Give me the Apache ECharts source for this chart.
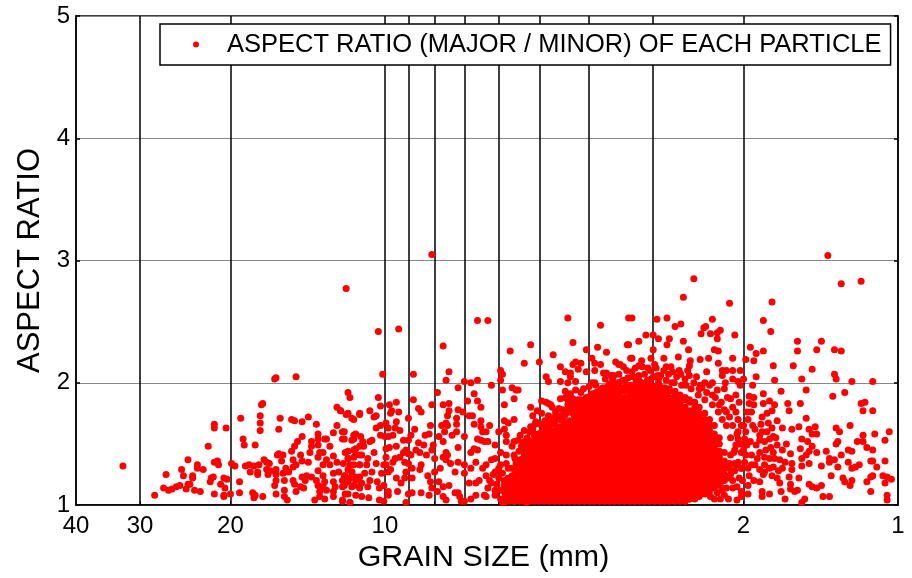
<!DOCTYPE html>
<html><head><meta charset="utf-8">
<script src="https://cdn.jsdelivr.net/npm/echarts@6/dist/echarts.min.js"></script>
<style>html,body{margin:0;padding:0;background:#fff}#c{width:912px;height:578px}</style>
</head><body><div id="c"></div>
<script>
const xLabelTicks = [40,30,20,10,2,1];
const xLineTicks = [30,20,10,9,8,7,6,5,4,3,2];
const legendLabel = 'ASPECT RATIO (MAJOR / MINOR) OF EACH PARTICLE';
const farLeft = [[32.4,1.32],[28.1,1.08],[27,1.14],[26.7,1.25],[26.4,1.12],[26,1.13],[25.5,1.15],[25.1,1.16],[24.9,1.29],[24.7,1.24],[24.2,1.37],[24.4,1.13],[24.2,1.17],[24,1.17],[23.7,1.24],[23.7,1.22],[23.5,1.12],[23.2,1.33],[23.2,1.30],[22.9,1.11],[22.6,1.29],[22.1,1.48],[21.9,1.19],[21.8,1.22],[21.6,1.23],[21.5,1.66],[21.5,1.63],[21.5,1.35],[21.2,1.36],[21.1,1.33],[21.5,1.09],[20.9,1.17],[20.6,1.22],[20.3,1.21],[20.6,1.08],[20.6,1.07],[20.5,1.14],[20.4,1.63],[20,1.09],[19.9,1.34],[19.6,1.32],[19.2,1.19],[19.2,1.10],[19.1,1.71],[18.9,1.54],[18.8,1.49],[18.7,1.32],[18.4,1.33],[18.3,1.27],[18.1,1.10],[18,1.32],[17.9,1.08],[18,1.06],[17.9,1.49],[17.7,1.27],[17.7,1.25],[17.6,1.33],[17.5,1.73],[17.5,1.67],[17.5,1.61],[17.4,1.82],[17.3,1.83],[17.3,1.07],[17.2,1.37],[17,1.35],[17,1.29],[16.7,1.28],[16.8,1.34],[16.4,2.03],[16.3,2.04]];
const midLeft = [[16,1.71],[16.1,1.62],[15.2,1.70],[15,1.69],[14.5,1.68],[14.1,1.72],[13.6,1.66],[13.5,1.58],[14.9,2.05],[12.4,1.8],[12.2,1.77],[11.8,1.75],[11.5,1.70],[11.2,1.75],[12.4,1.65],[12.6,1.59],[12,1.6],[12,1.54],[11.5,1.54],[11.4,1.58],[14.5,1.56],[14.8,1.52],[15,1.48],[13.9,1.52],[13.5,1.54],[13.1,1.54],[13,1.54],[13.5,1.49],[12.8,1.48],[13.9,1.48],[15.2,1.44],[16.2,1.41],[16.1,1.42],[15.8,1.41],[14.6,1.41],[14,1.43],[13.4,1.43],[13.2,1.43],[12.6,1.4],[11.8,1.44],[11.4,1.46],[15.1,1.37],[15.9,1.36],[14.5,1.36],[14.1,1.35],[13.5,1.39],[13,1.37],[12.4,1.35],[11.8,1.38],[11.5,1.39],[11.2,1.41],[16.3,1.29],[15.6,1.3],[15.1,1.31],[14.9,1.33],[13.2,1.33],[12.8,1.33],[13.5,1.28],[12.3,1.27],[11.8,1.29],[11.5,1.33],[11.2,1.33],[16.9,1.25],[16.3,1.25],[15.8,1.26],[15.4,1.27],[14.5,1.23],[14.2,1.24],[13.9,1.23],[13.2,1.24],[12.6,1.26],[12,1.24],[11.6,1.27],[16.3,1.2],[15.7,1.2],[15.1,1.2],[14.3,1.2],[13.6,1.2],[13.1,1.19],[12.6,1.19],[12.1,1.2],[11.7,1.22],[11.4,1.23],[16.4,1.16],[15,1.17],[14.6,1.15],[13.5,1.16],[13.2,1.15],[12.5,1.15],[12,1.16],[11.5,1.16],[11.2,1.15],[15.7,1.12],[14.9,1.11],[14.4,1.14],[13.4,1.11],[13,1.12],[12.6,1.11],[11.8,1.09],[16.3,1.09],[15.7,1.07],[15.5,1.04],[13.7,1.04],[13.4,1.07],[13.1,1.05],[12.6,1.07],[12.1,1.04],[11.7,1.02],[11.4,1.08]];
const outliersMid = [[11.9,2.77],[10.3,2.42],[9.4,2.44],[8.1,3.05],[6.6,2.51],[6.3,2.51],[7.7,2.3],[10.1,2.07],[8.8,2.07],[7.5,2.09],[7.6,2.02],[7,2.01],[6.8,2],[6.6,2.02],[6.2,1.98],[7.2,1.96],[7.9,1.92],[11.8,1.92],[11.7,1.88],[10.3,1.88],[10.2,1.81],[9.8,1.82],[9.5,1.84],[8.8,1.86],[8.1,1.82],[7.7,1.82],[7.5,1.83],[6.9,1.85],[6.7,1.91],[6.6,1.85],[6.5,1.8],[5.95,2.1],[5.9,2.07],[5.95,2.02],[5.9,1.94],[5.7,2.26],[5.2,2.31],[5.35,2.16],[5,2.17],[4.4,2.53],[3.8,2.47],[3.3,2.53],[4.3,2.33],[4.05,2.27],[3.85,2.29],[3.7,2.25],[3.35,2.31],[4.7,2.23],[3.95,2.2],[3.9,2.16],[3.8,2.15],[3.55,2.17],[3.5,2.15],[3.3,2.2],[4.55,2.13],[4.45,2.09],[4.35,2.08],[4.3,2.15],[4.25,2.17],[4.2,2.11],[4.15,2.16],[4.05,2.09],[3.9,2.1],[3.75,2.08],[4.85,2.05],[4.8,2.01],[4.55,2.01],[4.4,2],[4.35,2.05],[4.25,2.01],[3.95,2],[5.65,1.96],[5.55,1.94],[5.5,1.94],[5.6,1.87],[5.85,1.82],[4.95,1.85],[4.45,1.93],[4.15,1.92],[4.55,1.87],[4.85,1.84],[4.75,1.82],[4.4,1.86],[4.3,1.87]];
const clusterMid = [[12.2,1.77],[11.9,1.74],[11.6,1.71],[11.2,1.74],[10.7,1.77],[10.5,1.72],[10.4,1.73],[9.7,1.77],[9.75,1.75],[9.4,1.76],[9,1.71],[8.6,1.79],[8.5,1.76],[9.5,1.68],[9.95,1.67],[10.4,1.63],[10.2,1.65],[9.85,1.63],[9.55,1.63],[9.35,1.61],[8.75,1.62],[8.15,1.65],[8.2,1.58],[8.35,1.57],[8.9,1.57],[9,1.53],[9.2,1.53],[7.85,1.56],[7.75,1.65],[7.6,1.67],[7.55,1.73],[7.5,1.77],[7.25,1.71],[7.2,1.78],[7.05,1.76],[6.85,1.73],[6.75,1.73],[6.5,1.69],[6.7,1.66],[6.25,1.65],[6.5,1.64],[6.45,1.6],[6.35,1.6],[7.25,1.66],[7.55,1.65],[7.65,1.6],[7.25,1.6],[7.4,1.57],[7,1.56],[6.6,1.54],[6.5,1.53],[6.4,1.52],[6.3,1.52],[5.85,1.69],[5.6,1.7],[5.75,1.67],[6,1.6],[5.85,1.62],[5.8,1.57],[5.35,1.61],[5.45,1.57],[5.6,1.52],[6.1,1.49],[5.8,1.52],[5.5,1.53],[5.95,1.43],[5.65,1.48],[5.8,1.41],[5.6,1.41],[6.1,1.38],[6.2,1.37],[6.8,1.43],[6.7,1.46],[6.6,1.45],[7.2,1.47],[7.7,1.52],[7.6,1.43],[7.7,1.39],[7.55,1.41],[8.05,1.49],[8.1,1.45],[8.4,1.49],[8.6,1.51],[8.7,1.45],[8.55,1.43],[8.3,1.41],[8,1.38],[9,1.42],[8.9,1.41],[9.1,1.45],[9.2,1.43],[9.5,1.48],[9.8,1.47],[9.95,1.46],[10.6,1.53],[10.7,1.52],[10.2,1.57],[10,1.56],[9.85,1.56],[9.65,1.57],[11.5,1.57],[11.15,1.56],[11.6,1.53],[11.05,1.52],[12.1,1.6],[12.1,1.54],[11.2,1.48],[11.5,1.45],[11,1.48],[11.95,1.43],[10.5,1.43],[11.8,1.38],[11.4,1.41],[11.1,1.41],[10.8,1.38],[12.05,1.34],[11.7,1.33],[11.2,1.33],[10.85,1.33],[10.4,1.34],[9.95,1.39],[9.65,1.35],[9.95,1.33],[10.05,1.33],[9.55,1.38],[9.35,1.39],[9.15,1.35],[9,1.34],[9.1,1.27],[8.85,1.3],[8.5,1.33],[8.55,1.29],[8.25,1.24],[8.15,1.19],[8,1.27],[7.8,1.3],[7.6,1.37],[7.45,1.34],[7.3,1.27],[7.2,1.35],[7,1.33],[7,1.26],[6.8,1.3],[6.65,1.35],[6.45,1.3],[6.35,1.33],[6.1,1.27],[5.95,1.33],[5.75,1.3],[5.55,1.34],[11.95,1.24],[11.6,1.27],[11.2,1.23],[10.95,1.26],[10.6,1.27],[10.15,1.26],[9.85,1.27],[9.75,1.29],[9.5,1.22],[9.3,1.18],[9.15,1.22],[8.85,1.22],[11.8,1.19],[11.4,1.2],[11.1,1.18],[10.7,1.2],[10.35,1.19],[10.05,1.16],[12.1,1.15],[11.6,1.15],[11.2,1.14],[10.8,1.15],[10.25,1.14],[9.85,1.11],[9.85,1.08],[9.45,1.11],[8.85,1.1],[9,1.09],[8.5,1.1],[8.2,1.08],[8.1,1.14],[7.85,1.19],[7.7,1.15],[7.5,1.16],[7.9,1.11],[7.7,1.07],[7.6,1.04],[7.3,1.1],[7.2,1.1],[7.15,1.07],[7.1,1.03],[7,1.03],[6.8,1.05],[6.65,1.08],[6.35,1.07],[6.85,1.18],[6.65,1.18],[6.55,1.2],[6.35,1.24],[6.2,1.18],[6.1,1.08],[5.95,1.05],[5.85,1.02],[5.6,1.03],[6,1.22],[5.85,1.2],[5.7,1.16],[5.55,1.11],[5.65,1.24],[5.45,1.22],[5.4,1.27],[5.4,1.15],[5.3,1.02],[12.1,1.03],[11.7,1.02],[11.95,1.09],[11.1,1.07],[10.75,1.06],[10.25,1.04],[10.05,1.03],[9.1,1.02]];
const coreFringe = [[5.2,1.8],[5.05,1.77],[5.15,1.73],[4.95,1.75],[4.8,1.83],[4.72,1.8],[4.58,1.79],[4.65,1.73],[4.88,1.69],[5.08,1.68],[5.2,1.64],[4.32,1.84],[4.2,1.86],[4.05,1.84],[4,1.87],[3.85,1.92],[3.8,1.94],[3.65,1.99],[3.6,2.03],[3.5,2],[3.4,1.95],[3.3,1.94],[3.25,1.98],[3.72,2.03],[3.58,2.06],[3.88,1.98],[3.95,1.91],[4.15,1.8],[4.4,1.76],[4.5,1.69],[4.8,1.73],[3.35,2.53],[2.95,2.52],[2.82,2.53],[2.72,2.46],[2.65,2.48],[2.3,2.52],[2.5,2.85],[2.62,2.70],[2.13,2.65],[2.1,2.03],[2.18,1.95],[2.12,1.87],[2.07,1.76],[2.16,1.76],[2.23,1.82],[2.3,1.9],[2.38,2],[2.44,1.95],[2.59,1.98],[2.76,2],[2.93,2],[3.03,2.03],[3.12,1.98],[2.05,1.54],[2.09,1.43],[2.02,1.43],[2.07,1.33],[2.04,1.22],[2.1,1.14],[2.18,1.08],[2.32,1.07],[2.22,1.16],[2.15,1.22],[2.02,1.3],[2.02,1.11],[2.08,2.39],[2.22,2.43],[2.25,2.36],[2.25,2.41],[2.32,2.4],[2.42,2.4],[2.37,2.46],[2.39,2.45],[2.62,2.34],[2.56,2.27],[2.79,2.36],[2.82,2.31],[2.93,2.36],[3,2.39],[3.1,2.39],[3.2,2.34],[3,2.27],[3.37,2.31],[3.32,2.2],[3.03,2.2],[2.86,2.2],[2.68,2.21],[2.54,2.18],[2.34,2.2],[2.43,2.19],[3.48,2.15],[3.16,2.18],[3.2,2.14],[3.07,2.12],[2.98,2.15],[2.83,2.13],[2.55,2.14],[2.36,2.09],[2.65,2.07],[2.75,2.09],[2.94,2.06],[3.3,2.09],[3.2,2.02],[3.4,2.02],[2.2,2.06],[2.17,2],[2.3,2],[2.55,2.06],[2.43,1.98],[3.45,1.95],[3.33,1.92],[2.07,1.9],[2.03,1.98],[2,2.03],[2.05,2.01],[2.1,2.1],[2.03,2.1],[2.16,2.1],[2.2,2.1],[2.1,2.2],[2.24,2.16],[2.24,2.26],[2.28,2.27],[2.02,1.65],[2.05,1.6],[2.07,1.49],[2.12,1.41],[1.98,1.41],[1.97,1.49],[1.99,1.54],[2,1.65],[2.02,1.3]];
const coreEdge = [[4.95,1.6],[4.9,1.65],[4.85,1.62],[4.8,1.68],[4.75,1.66],[4.7,1.7],[4.65,1.76],[4.6,1.72],[5.02,1.58],[4.98,1.66],[5.05,1.55],[5.12,1.58],[5.18,1.52],[5.25,1.46],[5.3,1.42],[5.38,1.38],[5.42,1.32],[4.5,1.78],[4.45,1.74],[4.4,1.82],[4.35,1.79],[4.3,1.75],[4.25,1.83],[4.2,1.8],[4.15,1.86],[4.1,1.84],[4.05,1.88],[4,1.82],[3.97,1.9],[3.92,1.87],[3.88,1.92],[3.84,1.89],[4.45,1.88],[4.35,1.91],[4.25,1.94],[4.1,1.95],[4,1.97],[3.9,2.0],[3.8,1.92],[3.76,1.96],[3.72,1.93],[3.68,1.97],[3.64,1.94],[3.6,1.98],[3.55,1.95],[3.52,2],[3.48,1.96],[3.44,2.02],[3.4,1.97],[3.36,2.04],[3.32,1.98],[3.28,2.05],[3.24,2.01],[3.2,2.06],[3.16,2],[3.12,2.07],[3.08,2.02],[3.04,2.1],[3,2.05],[2.96,2.12],[2.93,2.03],[3.5,2.07],[3.38,2.1],[3.62,2.06],[3.7,2.08],[3.25,2.12],[3.15,2.13],[3.43,2.13],[2.9,2.06],[2.86,2.1],[2.83,2.02],[2.8,2.07],[2.77,2.13],[2.73,2],[2.7,2.05],[2.67,2.1],[2.64,1.98],[2.6,2.03],[2.57,2.1],[2.53,1.95],[2.5,2],[2.47,2.05],[2.45,1.9],[2.41,1.96],[2.38,1.86],[2.36,1.92],[2.33,1.98],[2.3,1.82],[2.27,1.88],[2.25,1.94],[2.24,1.76],[2.21,1.84],[2.2,1.7],[2.18,1.78],[2.16,1.65],[2.15,1.88],[2.13,1.72],[2.12,1.55],[2.1,1.65],[2.1,1.8],[2.08,1.45],[2.06,1.58],[2.05,1.7],[2.04,1.84],[2.05,1.35],[2.03,1.5],[2.14,1.3],[2.12,1.25],[2.1,1.2],[2.08,1.28],[2.06,1.15],[2.16,1.14],[2.2,1.12],[2.25,1.1],[2.28,1.05],[2.22,1.05],[2.14,1.05],[2.06,1.04],[2.01,1.2],[1.99,1.35],[2,1.45],[1.98,1.6],[1.96,1.7],[1.94,1.52],[1.93,1.33],[1.91,1.2],[1.9,1.62],[1.88,1.38],[1.86,1.53],[1.85,1.66],[1.83,1.25],[1.81,1.45],[1.8,1.6],[1.77,1.47],[1.73,1.55],[1.71,1.28],[1.65,1.5],[1.66,1.35],[6.4,1.08],[6.3,1.14],[6.25,1.2],[6.15,1.25],[6.1,1.12],[6.05,1.17],[6,1.3],[5.95,1.12],[5.9,1.26],[5.85,1.16],[5.8,1.34],[5.75,1.22],[5.7,1.08],[5.65,1.3],[5.6,1.16],[5.58,1.38],[5.55,1.26],[5.5,1.33],[5.48,1.44],[5.45,1.37],[5.42,1.48],[5.38,1.44],[5.35,1.52],[5.32,1.47],[5.28,1.55],[5.25,1.5],[5.22,1.6],[5.15,1.62],[5.1,1.66],[5.9,1.02],[5.75,1.04],[5.5,1.05],[5.3,1.08]];
const farRight = [[1.37,3.04],[1.29,2.81],[1.18,2.83],[1.76,2.66],[1.83,2.51],[1.77,2.42],[1.57,2.34],[1.41,2.34],[1.57,2.26],[1.44,2.27],[1.33,2.27],[1.29,2.26],[1.94,2.29],[1.89,2.24],[1.83,2.26],[1.91,2.18],[1.98,2.19],[1.75,2.14],[1.6,2.14],[1.47,2.11],[1.33,2.07],[1.32,2.03],[1.23,2.01],[1.12,2.01],[1.89,2.05],[1.74,2.02],[1.54,2.03],[1.92,1.98],[1.69,1.93],[1.51,1.94],[1.83,1.91],[1.34,1.89],[1.27,1.92],[1.18,1.83],[1.16,1.84],[1.17,1.77],[1.12,1.77],[1.64,1.83],[1.63,1.77],[1.55,1.83],[1.51,1.71],[1.78,1.85],[1.83,1.83],[1.74,1.82],[1.95,1.89],[1.91,1.88],[1.95,1.83],[1.91,1.82],[1.97,1.76],[1.93,1.76],[1.8,1.75],[1.84,1.72],[1.76,1.77],[1.72,1.69],[1.79,1.67],[1.76,1.63],[1.68,1.63],[1.61,1.62],[1.56,1.64],[1.49,1.62],[1.45,1.64],[1.47,1.58],[1.44,1.58],[1.32,1.63],[1.3,1.6],[1.24,1.65],[1.11,1.58],[1.04,1.6],[1.17,1.57],[1.06,1.53],[1.2,1.52],[1.17,1.52],[1.54,1.54],[1.5,1.52],[1.31,1.52],[1.32,1.5],[1.15,1.47],[1.25,1.45],[1.23,1.44],[1.12,1.45],[1.38,1.44],[1.47,1.48],[1.55,1.46],[1.44,1.43],[1.49,1.44],[1.51,1.41],[1.54,1.38],[1.62,1.42],[1.29,1.41],[1.36,1.38],[1.33,1.37],[1.13,1.36],[1.12,1.36],[1.06,1.36],[1.36,1.35],[1.25,1.35],[1.31,1.31],[1.41,1.32],[1.49,1.34],[1.61,1.34],[1.54,1.32],[1.1,1.31],[1.23,1.3],[1.21,1.31],[1.19,1.33],[1.35,1.24],[1.63,1.23],[1.56,1.22],[1.61,1.29],[1.28,1.22],[1.27,1.19],[1.24,1.16],[1.23,1.2],[1.13,1.23],[1.12,1.24],[1.07,1.24],[1.05,1.23],[1.03,1.21],[1.15,1.19],[1.06,1.18],[1.49,1.17],[1.47,1.15],[1.44,1.14],[1.41,1.16],[1.62,1.17],[1.62,1.13],[1.57,1.12],[1.59,1.11],[1.69,1.11],[1.13,1.11],[1.4,1.07],[1.36,1.07],[1.05,1.08],[1.05,1.04],[1.52,1.05],[1.54,1.02],[1.66,1.05],[1.78,1.09],[1.84,1.11],[1.84,1.07],[1.96,1.09],[2.02,1.07],[1.86,1.57],[1.84,1.6],[1.92,1.65],[1.82,1.52],[1.75,1.56],[1.78,1.54],[1.72,1.49],[1.68,1.45],[1.75,1.43],[1.89,1.49],[1.86,1.43],[1.93,1.41],[1.82,1.39],[1.78,1.38],[1.74,1.38],[1.7,1.37],[1.82,1.33],[1.78,1.3],[1.75,1.31],[1.68,1.3],[1.86,1.29],[1.9,1.33],[1.96,1.3],[1.82,1.27],[1.76,1.24],[1.72,1.22],[1.7,1.18],[1.86,1.19],[1.95,1.24],[1.96,1.16]];
const denseSizes = [5.84,5.72,5.59,5.46,5.35,5.23,5.11,5.0,4.89,4.78,4.67,4.57,4.47,4.37,4.27,4.18,4.08,3.99,3.91,3.82,3.73,3.65,3.57,3.49,3.41,3.33,3.26,3.19,3.12,3.05,2.98,2.91,2.85,2.79,2.72,2.66,2.6,2.55,2.49,2.44,2.38,2.33,2.28,2.23,2.18,2.13,2.08];
const denseRatios = [
[1.04,1.1],
[1.06,1.12,1.18],
[1.03,1.09,1.15,1.21],
[1.05,1.12,1.18,1.24,1.29],
[1.03,1.09,1.14,1.2,1.25,1.32],
[1.06,1.11,1.17,1.22,1.28,1.34,1.4],
[1.03,1.09,1.14,1.2,1.25,1.31,1.36,1.43,1.48],
[1.06,1.11,1.17,1.22,1.28,1.33,1.39,1.44,1.5,1.54],
[1.03,1.09,1.14,1.2,1.25,1.31,1.36,1.42,1.47,1.53,1.58],
[1.06,1.11,1.17,1.22,1.28,1.33,1.39,1.44,1.5,1.55,1.62],
[1.03,1.09,1.14,1.2,1.25,1.31,1.36,1.42,1.47,1.53,1.58,1.66],
[1.06,1.11,1.17,1.22,1.28,1.33,1.39,1.44,1.5,1.55,1.61,1.7],
[1.03,1.09,1.14,1.2,1.25,1.31,1.36,1.42,1.47,1.53,1.58,1.64,1.73],
[1.06,1.11,1.17,1.22,1.28,1.33,1.39,1.44,1.5,1.55,1.61,1.66,1.76],
[1.03,1.09,1.14,1.2,1.25,1.31,1.36,1.42,1.47,1.53,1.58,1.64,1.69,1.78],
[1.06,1.11,1.17,1.22,1.28,1.33,1.39,1.44,1.5,1.55,1.61,1.66,1.72,1.8],
[1.03,1.09,1.14,1.2,1.25,1.31,1.36,1.42,1.47,1.53,1.58,1.64,1.69,1.75,1.82],
[1.06,1.11,1.17,1.22,1.28,1.33,1.39,1.44,1.5,1.55,1.61,1.66,1.72,1.77,1.84],
[1.03,1.09,1.14,1.2,1.25,1.31,1.36,1.42,1.47,1.53,1.58,1.64,1.69,1.75,1.8,1.86],
[1.06,1.11,1.17,1.22,1.28,1.33,1.39,1.44,1.5,1.55,1.61,1.66,1.72,1.77,1.83,1.88],
[1.03,1.09,1.14,1.2,1.25,1.31,1.36,1.42,1.47,1.53,1.58,1.64,1.69,1.75,1.8,1.86,1.9],
[1.06,1.11,1.17,1.22,1.28,1.33,1.39,1.44,1.5,1.55,1.61,1.66,1.72,1.77,1.83,1.9],
[1.03,1.09,1.14,1.2,1.25,1.31,1.36,1.42,1.47,1.53,1.58,1.64,1.69,1.75,1.8,1.86,1.91],
[1.06,1.11,1.17,1.22,1.28,1.33,1.39,1.44,1.5,1.55,1.61,1.66,1.72,1.77,1.83,1.88,1.92],
[1.03,1.09,1.14,1.2,1.25,1.31,1.36,1.42,1.47,1.53,1.58,1.64,1.69,1.75,1.8,1.86,1.93],
[1.06,1.11,1.17,1.22,1.28,1.33,1.39,1.44,1.5,1.55,1.61,1.66,1.72,1.77,1.83,1.88,1.94],
[1.03,1.09,1.14,1.2,1.25,1.31,1.36,1.42,1.47,1.53,1.58,1.64,1.69,1.75,1.8,1.86,1.91,1.95],
[1.06,1.11,1.17,1.22,1.28,1.33,1.39,1.44,1.5,1.55,1.61,1.66,1.72,1.77,1.83,1.88,1.96],
[1.03,1.09,1.14,1.2,1.25,1.31,1.36,1.42,1.47,1.53,1.58,1.64,1.69,1.75,1.8,1.86,1.91,1.97],
[1.06,1.11,1.17,1.22,1.28,1.33,1.39,1.44,1.5,1.55,1.61,1.66,1.72,1.77,1.83,1.88,1.94,1.98],
[1.03,1.09,1.14,1.2,1.25,1.31,1.36,1.42,1.47,1.53,1.58,1.64,1.69,1.75,1.8,1.86,1.91,1.97],
[1.06,1.11,1.17,1.22,1.28,1.33,1.39,1.44,1.5,1.55,1.61,1.66,1.72,1.77,1.83,1.88,1.94,1.97],
[1.03,1.09,1.14,1.2,1.25,1.31,1.36,1.42,1.47,1.53,1.58,1.64,1.69,1.75,1.8,1.86,1.91,1.96],
[1.06,1.11,1.17,1.22,1.28,1.33,1.39,1.44,1.5,1.55,1.61,1.66,1.72,1.77,1.83,1.88,1.95],
[1.03,1.09,1.14,1.2,1.25,1.31,1.36,1.42,1.47,1.53,1.58,1.64,1.69,1.75,1.8,1.86,1.93],
[1.06,1.11,1.17,1.22,1.28,1.33,1.39,1.44,1.5,1.55,1.61,1.66,1.72,1.77,1.83,1.9],
[1.03,1.09,1.14,1.2,1.25,1.31,1.36,1.42,1.47,1.53,1.58,1.64,1.69,1.75,1.8,1.88],
[1.05,1.11,1.17,1.22,1.28,1.33,1.39,1.44,1.5,1.55,1.61,1.66,1.72,1.77,1.86],
[1.05,1.09,1.14,1.2,1.25,1.31,1.36,1.42,1.47,1.53,1.58,1.64,1.69,1.75,1.84],
[1.07,1.11,1.17,1.22,1.28,1.33,1.39,1.44,1.5,1.55,1.61,1.66,1.72,1.8],
[1.09,1.14,1.2,1.25,1.31,1.36,1.42,1.47,1.53,1.58,1.64,1.69,1.75],
[1.11,1.17,1.22,1.28,1.33,1.39,1.44,1.5,1.55,1.61,1.66,1.7],
[1.14,1.2,1.25,1.31,1.36,1.42,1.47,1.53,1.58,1.65],
[1.17,1.22,1.28,1.33,1.39,1.44,1.5,1.55],
[1.2,1.25,1.31,1.36,1.43],
[1.24,1.3],
[1.34]
];
const sparse = [...farLeft,...midLeft,...outliersMid,...clusterMid,...coreFringe,...coreEdge,...farRight];
const dense = denseSizes.flatMap((s,i)=>denseRatios[i].map(r=>[s,r]));
const denseOverlap = denseSizes.flatMap((s,i)=>(denseRatios[i+1]||[]).map(r=>[s,r]));
const points = [...sparse,...dense,...denseOverlap];

const chart = echarts.init(document.getElementById('c'),null,{renderer:'canvas'});
const axisLine = {show:true,lineStyle:{color:'#000',width:1.5}};
chart.setOption({
  animation:false,
  backgroundColor:'#fff',
  textStyle:{fontFamily:'"Liberation Sans",Arial,sans-serif'},
  grid:{left:76,right:14,top:16,bottom:71,show:true,borderColor:'#000',borderWidth:1.5,backgroundColor:'#fff'},
  legend:{left:160,top:24,orient:'horizontal',backgroundColor:'#fff',borderColor:'#000',borderWidth:1.5,borderRadius:0,
    padding:[7.5,9,7.5,33],itemWidth:6,itemHeight:6,icon:'circle',selectedMode:false,
    textStyle:{fontSize:25.5,color:'#000',fontFamily:'"Liberation Sans",Arial,sans-serif',padding:[0,0,0,23]},
    data:[legendLabel]},
  xAxis:{type:'log',logBase:10,min:1,max:40,inverse:true,
    name:'GRAIN SIZE (mm)',nameLocation:'middle',nameGap:38,
    nameTextStyle:{fontSize:30.4,color:'#000',padding:[0,7,0,0]},
    axisLine:axisLine,
    axisTick:{show:true,inside:true,length:4,customValues:xLineTicks,lineStyle:{color:'#000'}},
    axisLabel:{show:true,fontSize:24,color:'#000',margin:9,customValues:xLabelTicks,showMinLabel:true,showMaxLabel:true,formatter:v=>String(Math.round(v))},
    splitLine:{show:true,lineStyle:{color:'#000',width:1.5,type:'solid'}},
    minorTick:{show:false},minorSplitLine:{show:false}},
  yAxis:[{type:'value',min:1,max:5,interval:1,position:'left',
    name:'ASPECT RATIO',nameLocation:'middle',nameGap:26,nameRotate:90,
    nameTextStyle:{fontSize:31,color:'#000'},
    axisLine:axisLine,
    axisTick:{show:true,inside:true,length:4,lineStyle:{color:'#000',width:1.5}},
    axisLabel:{fontSize:24,color:'#000',margin:6},
    splitLine:{show:true,lineStyle:{color:'#888',width:1,type:'solid'}}},
   {type:'value',min:1,max:5,interval:1,position:'right',
    axisLine:axisLine,
    axisTick:{show:true,inside:true,length:4,lineStyle:{color:'#000',width:1.5}},
    axisLabel:{show:false},splitLine:{show:false}}],
  series:[{name:legendLabel,type:'scatter',symbol:'circle',symbolSize:7,large:false,
    itemStyle:{color:'#ff0000',opacity:1},data:points}]
});
</script></body></html>
